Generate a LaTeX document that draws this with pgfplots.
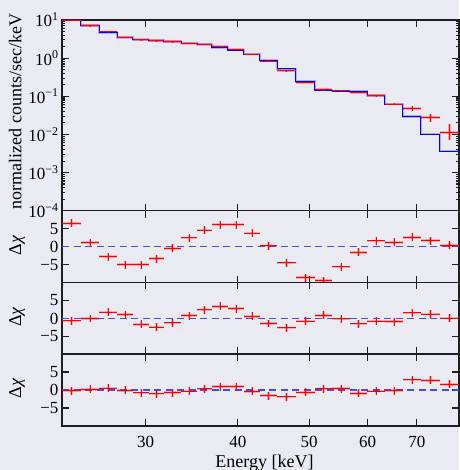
\documentclass[border=0pt]{standalone}
\usepackage{fontspec}
\setmainfont{Liberation Serif}
\usepackage{pgfplots}
\pgfplotsset{compat=1.18}
\usepackage{pgfplotstable}
\definecolor{bg}{HTML}{EAEAF2}
\definecolor{axc}{HTML}{1E1E1E}
\definecolor{zl}{HTML}{4A4AF5}

\pgfplotstableread{
x xe y yep yem
23.805 0.705 9.95 0.30 0.29
25.22 0.71 7.12 0.21 0.20
26.68 0.75 4.85 0.15 0.14
28.13 0.70 3.56 0.11 0.10
29.57 0.74 2.99 0.09 0.09
31.035 0.725 2.85 0.09 0.08
32.63 0.87 2.72 0.08 0.08
34.36 0.86 2.46 0.07 0.07
36.06 0.84 2.33 0.07 0.07
37.845 0.945 2.05 0.06 0.06
39.785 0.995 1.71 0.05 0.05
41.825 1.045 1.27 0.04 0.04
44.04 1.17 0.84 0.034 0.032
46.59 1.38 0.47 0.019 0.018
49.435 1.465 0.233 0.0093 0.009
52.30 1.40 0.148 0.006 0.0057
55.245 1.545 0.139 0.007 0.0066
58.34 1.55 0.126 0.0063 0.006
61.62 1.73 0.104 0.0062 0.0059
65.18 1.83 0.0627 0.0056 0.0052
68.945 1.935 0.0483 0.0072 0.0063
73.05 2.17 0.0274 0.0074 0.0058
77.525 2.305 0.0114 0.0068 0.0043
}\spec

\pgfplotstableread{
e m
23.10 9.95
24.51 7.09
25.93 4.70
27.43 3.52
28.83 3.04
30.31 2.94
31.76 2.76
33.50 2.49
35.22 2.31
36.90 1.92
38.79 1.63
40.78 1.28
42.87 0.89
45.21 0.52
47.97 0.241
50.90 0.146
53.70 0.137
56.79 0.133
59.89 0.1035
63.35 0.0627
67.01 0.0291
70.88 0.0102
75.22 0.00366
79.83 0.00366
}\model

\pgfplotstableread{
x xe r1 r2 r3
23.805 0.705 6.5 -0.65 -0.2
25.22 0.71 1.1 0 0.2
26.68 0.75 -2.8 1.75 0.5
28.13 0.70 -5.0 1.1 -0.1
29.57 0.74 -5.0 -1.6 -0.8
31.035 0.725 -3.35 -2.4 -1.1
32.63 0.87 -0.45 -1.2 -0.75
34.36 0.86 2.45 0.8 -0.3
36.06 0.84 4.6 2.4 0.3
37.845 0.945 6.1 3.4 0.9
39.785 0.995 6.1 2.7 0.9
41.825 1.045 3.8 0.6 -0.4
44.04 1.17 0.2 -1.4 -1.6
46.59 1.38 -4.5 -2.6 -1.9
49.435 1.465 -8.6 -0.75 -0.65
52.30 1.40 -9.4 0.9 0.3
55.245 1.545 -5.6 -0.1 0.35
58.34 1.55 -1.6 -1.5 -0.9
61.62 1.73 1.6 -0.75 -0.3
65.18 1.83 1.2 -0.85 -0.2
68.945 1.935 2.6 1.55 2.8
73.05 2.17 1.7 1.2 2.7
77.525 2.305 0.4 0.1 1.6
}\resid

\tikzset{
  myglow/.style={line width=2.6pt, opacity=0.25},
  mycore/.style={line width=1.0pt},
}

\newcommand{\residplot}[1]{%
  \addplot[zl, line width=1.6pt, dash pattern=on 7pt off 4.5pt] coordinates {(23.1,0) (79.83,0)};
  \addplot[draw=none, mark=none,
    error bars/.cd, x dir=both, x explicit, y dir=both, y fixed=1.1,
    error mark=none, error bar style={draw=red, myglow}]
    table[x=x, y=#1, x error=xe] {\resid};
  \addplot[draw=none, mark=none,
    error bars/.cd, x dir=both, x explicit, y dir=both, y fixed=1.1,
    error mark=none, error bar style={draw=red, mycore}]
    table[x=x, y=#1, x error=xe] {\resid};
}

\begin{document}
\begin{tikzpicture}
\fill[bg] (0,0) rectangle (459pt,470pt);

% top panel
\begin{axis}[scale only axis, width=397pt, height=190.7pt,
  at={(62pt,259.3pt)}, anchor=south west,
  xmode=log, xmin=23.1, xmax=79.83,
  xtick={30,40,50,60,70}, minor xtick={},
  xtick pos=both, ytick pos=both,
  tick align=inside, major tick length=7pt,
  axis line style={line width=1.1pt, axc},
  every tick/.style={line width=1.1pt, axc},
  tick label style={font=\fontsize{17}{17}\selectfont},
  label style={font=\fontsize{18}{18}\selectfont},
  ymode=log, ymin=1e-4, ymax=10,
  ytick={1e-4,1e-3,1e-2,1e-1,1,10}, minor ytick={},
  yticklabels={10\textsuperscript{−4},10\textsuperscript{−3},10\textsuperscript{−2},10\textsuperscript{−1},10\textsuperscript{0},10\textsuperscript{1}},
  xticklabels={},
  ylabel={normalized counts/sec/keV},
  ylabel style={at={(axis description cs:-0.118,0.52)}, anchor=center},
]
\addplot[blue, const plot, myglow] table[x=e, y=m] {\model};
\addplot[draw=none, mark=none,
  error bars/.cd, x dir=both, x explicit, y dir=both, y explicit,
  error mark=none, error bar style={draw=red, myglow}]
  table[x=x, y=y, x error=xe, y error plus=yep, y error minus=yem] {\spec};
\addplot[blue, const plot, mycore] table[x=e, y=m] {\model};
\addplot[draw=none, mark=none,
  error bars/.cd, x dir=both, x explicit, y dir=both, y explicit,
  error mark=none, error bar style={draw=red, mycore}]
  table[x=x, y=y, x error=xe, y error plus=yep, y error minus=yem] {\spec};
\end{axis}

\begin{axis}[scale only axis, width=397pt, height=72pt,
  at={(62pt,187.3pt)}, anchor=south west,
  xmode=log, xmin=23.1, xmax=79.83,
  xtick={30,40,50,60,70}, minor xtick={},
  xtick pos=both, ytick pos=both,
  tick align=inside, major tick length=7pt,
  axis line style={line width=1.1pt, axc},
  every tick/.style={line width=1.1pt, axc},
  tick label style={font=\fontsize{17}{17}\selectfont},
  label style={font=\fontsize{18}{18}\selectfont},
  ymin=-10, ymax=10, ytick={-5,0,5}, yticklabels={−5,0,5},
  ylabel={Δ\textit{χ}},
  ylabel style={at={(axis description cs:-0.113,0.52)}, anchor=center},
  xticklabels={}]
\residplot{r1}
\end{axis}

\begin{axis}[scale only axis, width=397pt, height=72pt,
  at={(62pt,115.5pt)}, anchor=south west,
  xmode=log, xmin=23.1, xmax=79.83,
  xtick={30,40,50,60,70}, minor xtick={},
  xtick pos=both, ytick pos=both,
  tick align=inside, major tick length=7pt,
  axis line style={line width=1.1pt, axc},
  every tick/.style={line width=1.1pt, axc},
  tick label style={font=\fontsize{17}{17}\selectfont},
  label style={font=\fontsize{18}{18}\selectfont},
  ymin=-10, ymax=10, ytick={-5,0,5}, yticklabels={−5,0,5},
  ylabel={Δ\textit{χ}},
  ylabel style={at={(axis description cs:-0.113,0.52)}, anchor=center},
  xticklabels={}]
\residplot{r2}
\end{axis}

\begin{axis}[scale only axis, width=397pt, height=72pt,
  at={(62pt,44pt)}, anchor=south west,
  xmode=log, xmin=23.1, xmax=79.83,
  xtick={30,40,50,60,70}, minor xtick={},
  xtick pos=both, ytick pos=both,
  tick align=inside, major tick length=7pt,
  axis line style={line width=1.1pt, axc},
  every tick/.style={line width=1.1pt, axc},
  tick label style={font=\fontsize{17}{17}\selectfont},
  label style={font=\fontsize{18}{18}\selectfont},
  ymin=-10, ymax=10, ytick={-5,0,5}, yticklabels={−5,0,5},
  ylabel={Δ\textit{χ}},
  ylabel style={at={(axis description cs:-0.113,0.52)}, anchor=center},
  xticklabels={30,40,50,60,70},
  xticklabel style={yshift=-7pt},
  xlabel={Energy [keV]},
  xlabel style={at={(axis description cs:0.51,-0.51)}, anchor=center},
]
\residplot{r3}
\end{axis}

\pgfresetboundingbox
\useasboundingbox (0,0) rectangle (459pt,470pt);
\end{tikzpicture}
\end{document}
